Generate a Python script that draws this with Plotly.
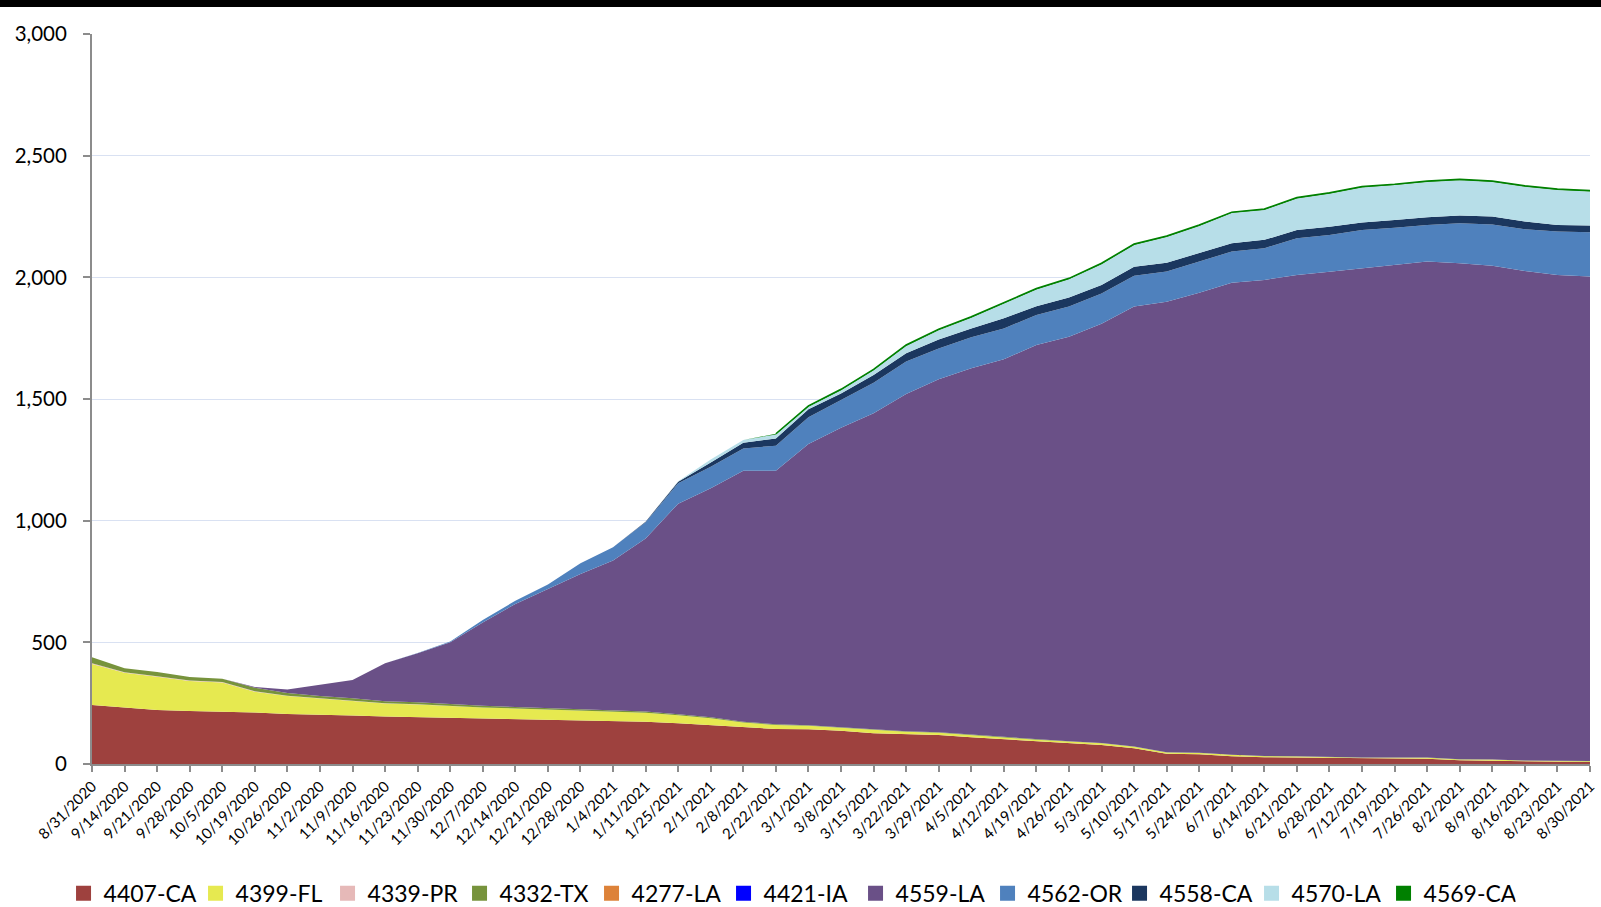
import numpy as np
import plotly.graph_objects as go

dates = ["8/31/2020","9/14/2020","9/21/2020","9/28/2020","10/5/2020","10/19/2020","10/26/2020",
         "11/2/2020","11/9/2020","11/16/2020","11/23/2020","11/30/2020","12/7/2020","12/14/2020",
         "12/21/2020","12/28/2020","1/4/2021","1/11/2021","1/25/2021","2/1/2021","2/8/2021",
         "2/22/2021","3/1/2021","3/8/2021","3/15/2021","3/22/2021","3/29/2021","4/5/2021",
         "4/12/2021","4/19/2021","4/26/2021","5/3/2021","5/10/2021","5/17/2021","5/24/2021",
         "6/7/2021","6/14/2021","6/21/2021","6/28/2021","7/12/2021","7/19/2021","7/26/2021",
         "8/2/2021","8/9/2021","8/16/2021","8/23/2021","8/30/2021"]

ca4407 = [242,233,222,218,215,212,205,203,199,195,192,190,187,184,181,178,176,174,167,160,151,144,
          143,137,126,123,119,110,102,92,85,78,65,42,40,32,28,27,23,22,22,22,15,14,10,9,8]
fl4399 = [169,142,137,123,120,85,74,65,61,54,53,47,45,44,43,42,40,37,33,28,20,16,14,12,12,10,9,8,
          8,8,7,7,6,5,5,5,4,4,4,4,4,4,4,4,3,3,3]
pr4339 = [3,2,2,2,2,2,1,1,1,1,1,1,0,0,0,0,0,0,0,0,0,0,0,0,0,0,0,0,0,0,0,0,0,0,0,0,0,0,0,0,0,0,0,
          0,0,0,0]
tx4332 = [25,17,17,15,13,14,12,10,9,8,8,7,7,6,6,6,5,5,4,4,3,3,2,2,2,2,2,2,2,2,1,1,1,1,1,1,1,1,1,1,
          1,1,1,1,1,1,1]
la4277 = [0]*47
ia4421 = [0]*47
la4559 = [0,0,0,0,0,3,14,46,75,156,201,255,342,424,488,555,615,711,866,941,1031,1042,1156,1231,
          1301,1386,1451,1506,1551,1620,1663,1723,1808,1852,1891,1940,1956,1978,1995,2010,2024,
          2038,2038,2029,2012,1997,1991]
or4562 = [0,0,0,0,0,0,0,0,0,0,1,3,11,13,20,44,55,66,84,89,92,103,110,114,126,133,127,128,127,123,
          124,125,126,124,128,128,131,151,151,158,153,150,164,169,172,178,182]
ca4558 = [0,0,0,0,0,0,0,0,0,0,0,0,0,0,0,0,0,3,6,17,23,30,33,27,32,34,37,36,42,36,37,35,38,36,34,
          34,34,34,34,30,32,32,32,33,31,27,28]
la4570 = [0,0,0,0,0,0,0,0,0,0,0,0,0,0,0,0,0,0,2,12,12,16,10,13,19,30,38,44,60,69,75,85,89,106,112,
          124,123,129,136,144,143,145,145,142,143,144,140]
ca4569 = [0,0,0,0,0,0,0,0,0,0,0,0,0,0,0,0,0,0,0,0,0,3,4,4,4,4,4,4,4,4,4,4,4,4,4,4,4,4,4,4,4,4,4,
          4,4,4,4]

series_names = ["4407-CA","4399-FL","4339-PR","4332-TX","4277-LA","4421-IA",
                "4559-LA","4562-OR","4558-CA","4570-LA","4569-CA"]
series_vals = [ca4407, fl4399, pr4339, tx4332, la4277, ia4421,
               la4559, or4562, ca4558, la4570, ca4569]
colors = ["#9E413E","#E6E950","#E6B9B8","#77933C","#DD8239","#0000FF",
          "#6A5087","#4F81BD","#1B375F","#B7DEE8","#008000"]

FONT = "Lato, 'Open Sans', sans-serif"

fig = go.Figure()
for name, vals, col in zip(series_names, series_vals, colors):
    fig.add_trace(go.Scatter(
        x=dates, y=vals, name=name, mode="lines", stackgroup="one",
        line=dict(color=col, width=0), fillcolor=col,
        showlegend=False, hoverinfo="x+y+name"))

# top border line of the last series (drawn only where it has values)
total = np.sum(np.array(series_vals), axis=0)
keep = [i for i, v in enumerate(ca4569) if v > 0]
fig.add_trace(go.Scatter(
    x=[dates[i] for i in keep], y=[float(total[i]) for i in keep], mode="lines",
    line=dict(color="#008000", width=1.5), showlegend=False, hoverinfo="skip"))

for name, col in zip(series_names, colors):
    fig.add_trace(go.Scatter(
        x=[None], y=[None], name=name, mode="markers",
        marker=dict(symbol="square", size=15, color=col), showlegend=True))

fig.update_layout(
    width=1601, height=907,
    margin=dict(l=92, r=11, t=34, b=143, autoexpand=False),
    paper_bgcolor="white", plot_bgcolor="white",
    font=dict(family=FONT, color="#000000"),
    legend=dict(orientation="h", x=-0.019, xanchor="left", y=-0.177, yanchor="middle",
                font=dict(size=23, family=FONT, color="#000000"),
                entrywidth=87, entrywidthmode="pixels", traceorder="normal",
                itemclick=False, itemdoubleclick=False),
    shapes=[dict(type="rect", xref="paper", yref="paper", x0=-0.1, x1=1.1,
                 y0=757/730, y1=1.06, fillcolor="#000000", line=dict(width=0), layer="above")],
)
fig.update_xaxes(
    type="category", range=[0, len(dates) - 1], tickmode="linear", tick0=0, dtick=1,
    tickangle=-45, tickfont=dict(size=15, family=FONT, color="#000000"),
    showgrid=False, showline=True, linecolor="#8C8C8C", linewidth=1.5,
    ticks="outside", ticklen=6, tickcolor="#8C8C8C", tickwidth=1.5, zeroline=False)
fig.update_yaxes(
    range=[0, 3000], dtick=500, tickformat=",", tickfont=dict(size=20.5, family=FONT, color="#000000"),
    showgrid=True, gridcolor="#D9E1F2", gridwidth=1, showline=True, linecolor="#8C8C8C",
    linewidth=2, ticks="outside", ticklen=7, tickcolor="#8C8C8C", tickwidth=1.5,
    zeroline=False, ticklabelstandoff=12)

fig.write_html("out.html", config={"displayModeBar": False},
               post_script="document.body.style.margin='0';document.body.style.overflow='hidden';")
